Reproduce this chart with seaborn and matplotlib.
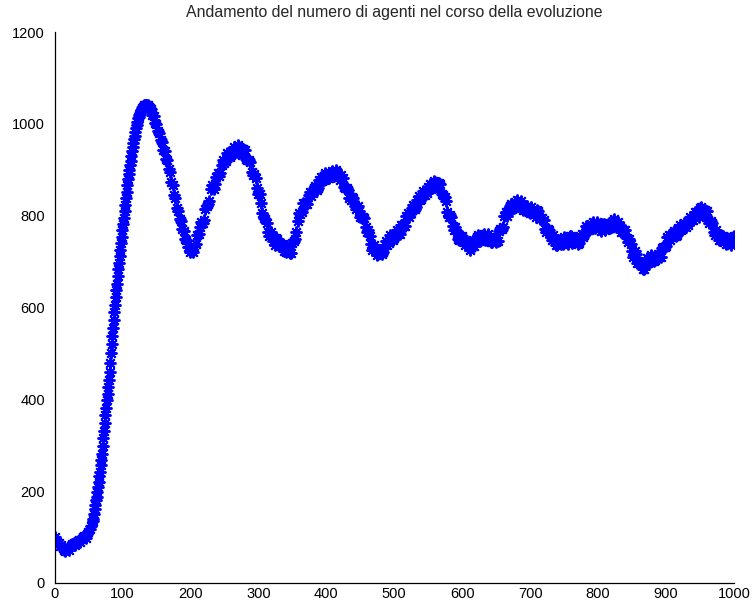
import matplotlib
matplotlib.use("Agg")
import matplotlib.pyplot as plt
import pandas as pd
import seaborn as sns

# Number of agents per time step, grouped by stretch of the run
steps_start = list(range(0, 57, 2))
agents_start = [100, 94, 90, 86, 80, 82, 76, 72, 70, 74, 78, 72, 80, 84, 88, 82, 86,
                92, 94, 90, 96, 100, 102, 98, 106, 112, 118, 124, 135]

steps_rise = list(range(57, 141))
agents_rise = [140, 150, 162, 170, 180, 188, 198, 208, 220, 232, 242, 256, 268, 282,
               298, 315, 330, 348, 365, 382, 398, 412, 426, 442, 460, 480, 500, 520,
               538, 556, 572, 590, 606, 622, 638, 652, 668, 684, 698, 712, 726, 740,
               754, 768, 782, 796, 810, 824, 838, 852, 866, 880, 890, 900, 910, 920,
               930, 940, 950, 958, 966, 974, 982, 990, 998, 1005, 1012, 1016, 1020,
               1024, 1028, 1031, 1034, 1036, 1038, 1040, 1041, 1042, 1042, 1041, 1040,
               1039, 1037, 1035]

steps_fall = list(range(142, 215, 2))
agents_fall = [1032, 1020, 1017, 1002, 1000, 985, 981, 964, 961, 944, 941, 924, 921,
               902, 895, 874, 867, 846, 838, 816, 811, 792, 788, 770, 767, 750, 748,
               732, 732, 720, 725, 720, 733, 738, 758, 761, 776]

# Oscillating phase: samples every 4 steps from 216, plus those in between from 218
steps_late = list(range(216, 1001, 4))
agents_late = [786, 791, 821, 833, 866, 870, 893, 892, 921, 918, 934, 932, 949, 939,
               949, 933, 942, 922, 917, 888, 883, 848, 828, 794, 784, 755, 755, 737,
               749, 735, 738, 720, 729, 718, 744, 764, 806, 808, 828, 825, 851, 850,
               865, 860, 885, 878, 888, 883, 898, 886, 895, 877, 882, 860, 857, 834,
               839, 814, 810, 794, 796, 765, 755, 725, 730, 716, 725, 720, 745, 740,
               754, 752, 768, 761, 779, 777, 806, 806, 823, 818, 843, 836, 850, 850,
               868, 861, 873, 859, 868, 844, 833, 798, 797, 768, 762, 748, 756, 737,
               741, 725, 744, 744, 757, 746, 761, 746, 754, 742, 751, 745, 771, 775,
               808, 810, 825, 816, 835, 821, 824, 812, 821, 806, 813, 797, 810, 794,
               791, 764, 769, 748, 748, 736, 748, 738, 751, 739, 755, 744, 751, 740,
               761, 758, 776, 772, 786, 773, 781, 766, 782, 774, 785, 776, 793, 776,
               777, 764, 768, 743, 738, 711, 716, 698, 698, 684, 707, 700, 709, 703,
               717, 709, 731, 733, 758, 754, 767, 758, 779, 770, 781, 779, 798, 791,
               807, 797, 818, 810, 811, 784, 784, 758, 758, 748, 756, 738, 746, 736,
               756]

steps_late_mid = list(range(218, 1000, 4))
agents_late_mid = [784, 815, 826, 858, 859, 884, 886, 911, 914, 936,
                   928, 943, 939, 953, 940, 946, 923, 922, 896, 890,
                   860, 848, 806, 792, 765, 764, 745, 752, 733, 739,
                   722, 729, 718, 741, 749, 788, 803, 827, 826, 846,
                   842, 860, 856, 877, 876, 893, 881, 893, 887, 899,
                   885, 888, 862, 861, 839, 841, 821, 822, 797, 798,
                   776, 769, 739, 736, 714, 723, 716, 737, 737, 757,
                   748, 763, 760, 779, 777, 800, 797, 817, 814, 835,
                   834, 853, 845, 862, 860, 876, 865, 872, 847, 841,
                   809, 802, 777, 775, 750, 755, 742, 748, 732, 743,
                   735, 753, 745, 758, 748, 760, 743, 749, 743, 767,
                   772, 800, 800, 820, 814, 830, 823, 833, 813, 819,
                   809, 819, 804, 812, 793, 795, 771, 771, 753, 758,
                   737, 745, 739, 753, 744, 756, 740, 750, 739, 755,
                   754, 777, 769, 782, 775, 786, 772, 782, 769, 782,
                   774, 789, 779, 787, 765, 769, 751, 749, 724, 722,
                   698, 700, 684, 700, 698, 715, 701, 713, 709, 729,
                   731, 754, 747, 763, 756, 773, 769, 785, 775, 791,
                   790, 808, 801, 816, 805, 813, 791, 789, 765, 768,
                   748, 755, 743, 751, 740, 754]

x_ticks = list(range(0, 1001, 100))
y_ticks = list(range(0, 1201, 200))
title = "Andamento del numero di agenti nel corso della evoluzione"

df = pd.DataFrame({
    "step": steps_start + steps_rise + steps_fall + steps_late + steps_late_mid,
    "agents": agents_start + agents_rise + agents_fall + agents_late + agents_late_mid,
}).sort_values("step")

sns.set_style("white")
plt.rcParams["font.family"] = ["Liberation Sans", "DejaVu Sans"]

fig = plt.figure(figsize=(7.52, 6.10), dpi=100)
ax = fig.add_axes([0.0725, 0.0443, 0.9035, 0.9032])

sns.lineplot(data=df, x="step", y="agents", ax=ax, estimator=None, sort=False,
             color="#0000ff", linestyle="none", marker=(8, 2, 0), markersize=8.5,
             markeredgecolor="#0000ff", markeredgewidth=1.4)

ax.set_xlim(0, 1000)
ax.set_ylim(0, 1200)
ax.set_xticks(x_ticks)
ax.set_yticks(y_ticks)
ax.set_xlabel("")
ax.set_ylabel("")
for side in ("top", "right"):
    ax.spines[side].set_visible(False)
for side in ("left", "bottom"):
    ax.spines[side].set_color("black")
    ax.spines[side].set_linewidth(0.9)
ax.tick_params(direction="in", length=4, width=0.9, colors="black", labelsize=10.5)
ax.tick_params(axis="x", pad=3)
ax.tick_params(axis="y", pad=7)
ax.set_title(title, fontsize=11.4, pad=11)

fig.savefig("out.png", dpi=100, facecolor="white")
